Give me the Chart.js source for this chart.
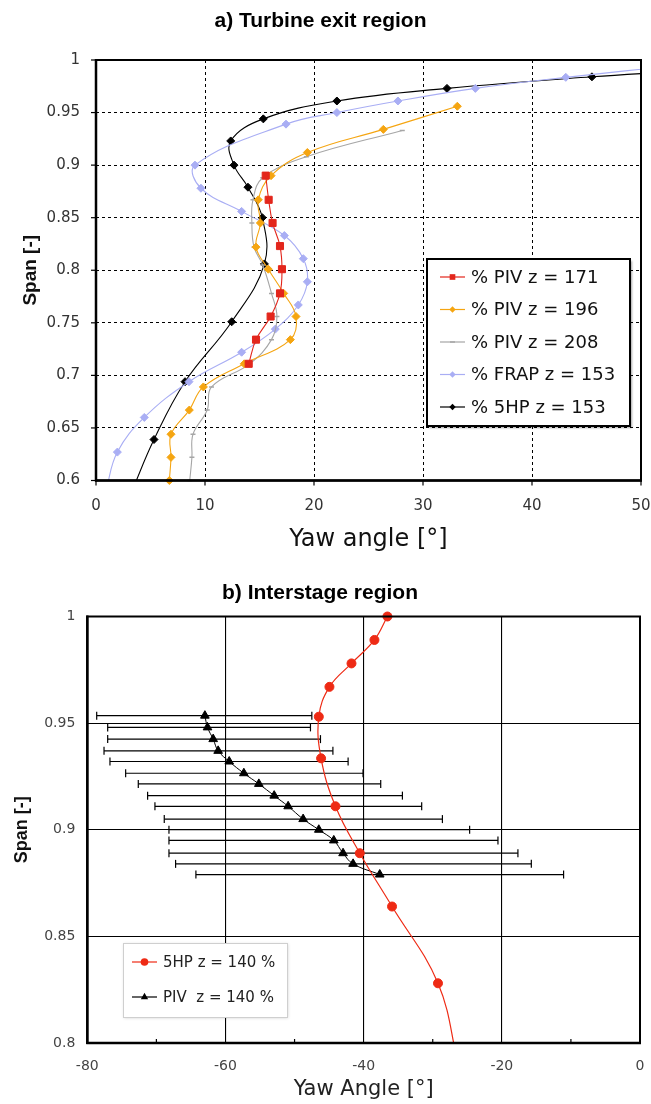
<!DOCTYPE html>
<html><head><meta charset="utf-8">
<script src="https://cdn.jsdelivr.net/npm/chart.js@4.4.1/dist/chart.umd.min.js"></script>
<style>
html,body{margin:0;padding:0;background:#fff;}
#wrapA{position:absolute;left:0;top:0;width:651px;height:570px;}
#wrapB{position:absolute;left:0;top:570px;width:651px;height:534px;}
canvas{display:block;}
</style></head><body>
<div id="wrapA"><canvas id="cA" width="651" height="570"></canvas></div>
<div id="wrapB"><canvas id="cB" width="651" height="534"></canvas></div>
<script>
// ---------- Panel a) Turbine exit region ----------
const titleA = 'a) Turbine exit region';
const yawTicksA = [0, 10, 20, 30, 40, 50];
const yawLabelsA = ['0', '10', '20', '30', '40', '50'];
const spanTicksA = [0.6, 0.65, 0.7, 0.75, 0.8, 0.85, 0.9, 0.95, 1];
const spanLabelsA = ['0.6', '0.65', '0.7', '0.75', '0.8', '0.85', '0.9', '0.95', '1'];
const legendA = ['% PIV z = 171', '% PIV z = 196', '% PIV z = 208', '% FRAP z = 153', '% 5HP z = 153'];

const piv171Yaw  = [15.57, 15.84, 16.2, 16.88, 17.06, 16.88, 16.02, 14.68, 14.01];
const piv171Span = [0.890, 0.867, 0.845, 0.823, 0.801, 0.778, 0.756, 0.734, 0.711];

const piv196Yaw  = [33.15, 26.36, 19.39, 16.06, 14.89, 15.08, 14.68, 15.81, 17.22, 18.35, 17.83, 13.6, 9.85, 8.56, 6.88, 6.88, 6.73];
const piv196Span = [0.956, 0.934, 0.912, 0.890, 0.867, 0.845, 0.822, 0.801, 0.778, 0.756, 0.734, 0.711, 0.689, 0.667, 0.644, 0.622, 0.600];

const piv208Yaw  = [28.1, 19.3, 15.3, 14.4, 14.3, 14.5, 15.3, 16.1, 16.6, 16.1, 14.1, 10.6, 10.2, 8.9, 8.8, 8.6];
const piv208Span = [0.933, 0.908, 0.888, 0.867, 0.845, 0.822, 0.805, 0.778, 0.756, 0.734, 0.711, 0.689, 0.667, 0.644, 0.622, 0.600];

const frapYaw  = [54, 43.1, 34.8, 27.7, 22.1, 17.43, 9.08, 9.63, 13.36, 17.28, 19.02, 19.39, 18.56, 16.45, 13.36, 8.53, 4.43, 1.96, 0.9];
const frapSpan = [0.9955, 0.9835, 0.973, 0.961, 0.950, 0.939, 0.900, 0.878, 0.856, 0.833, 0.811, 0.789, 0.767, 0.744, 0.722, 0.694, 0.660, 0.627, 0.59];

const hp153Yaw  = [54, 45.5, 32.2, 22.1, 15.35, 12.36, 12.66, 13.94, 15.26, 15.45, 12.45, 8.17, 5.32, 3.3];
const hp153Span = [0.9895, 0.984, 0.973, 0.961, 0.944, 0.923, 0.900, 0.879, 0.850, 0.806, 0.751, 0.694, 0.639, 0.59];

// ---------- Panel b) Interstage region ----------
const titleB = 'b) Interstage region';
const yawTicksB = [-80, -60, -40, -20, 0];
const yawLabelsB = ['-80', '-60', '-40', '-20', '0'];
const yawMinorB = [-70, -50, -30, -10];
const spanTicksB = [0.8, 0.85, 0.9, 0.95, 1];
const spanLabelsB = ['0.8', '0.85', '0.9', '0.95', '1'];
const legendB = ['5HP z = 140 %', 'PIV  z = 140 %'];

const hp140Yaw  = [-36.56, -38.44, -41.76, -44.95, -46.49, -46.16, -44.08, -40.56, -35.89, -29.24, -26.3];
const hp140Span = [1.0, 0.989, 0.978, 0.967, 0.953, 0.9335, 0.911, 0.889, 0.864, 0.828, 0.79];

const piv140Yaw  = [-62.98, -62.6, -61.78, -61.06, -59.46, -57.34, -55.17, -52.95, -50.93, -48.76, -46.49, -44.32, -42.98, -41.53, -37.67];
const piv140Span = [0.9535, 0.948, 0.9425, 0.937, 0.932, 0.9265, 0.9215, 0.916, 0.911, 0.905, 0.900, 0.895, 0.889, 0.884, 0.879];
const piv140ErrLow  = [-78.64, -77.05, -77.05, -77.58, -76.72, -74.45, -72.62, -71.27, -70.21, -68.86, -68.18, -68.18, -68.18, -67.22, -64.28];
const piv140ErrHigh = [-47.5, -47.7, -46.25, -44.45, -42.25, -40.09, -37.53, -34.39, -31.6, -28.6, -24.66, -20.56, -17.67, -15.73, -11.06];

// ---------- helpers ----------
const pts = (xs, ys) => xs.map((v, i) => ({x: v, y: ys[i]}));
const lab = (ticks, labels) => (v) => { const i = ticks.findIndex(t => Math.abs(t - v) < 1e-6); return i < 0 ? '' : labels[i]; };

function drawMark(ctx, style, x, y, r, color) {
  ctx.save();
  ctx.fillStyle = color; ctx.strokeStyle = color; ctx.lineWidth = 1;
  ctx.beginPath();
  if (style === 'rect') { const s = r * Math.SQRT1_2; ctx.rect(x - s, y - s, 2 * s, 2 * s); ctx.fill(); }
  else if (style === 'rectRot') { ctx.moveTo(x, y - r); ctx.lineTo(x + r, y); ctx.lineTo(x, y + r); ctx.lineTo(x - r, y); ctx.closePath(); ctx.fill(); }
  else if (style === 'circle') { ctx.arc(x, y, r, 0, Math.PI * 2); ctx.fill(); }
  else if (style === 'triangle') {
    for (let k = 0; k < 3; k++) { const a = -Math.PI / 2 + k * 2 * Math.PI / 3; const px = x + Math.cos(a) * r, py = y + Math.sin(a) * r; k ? ctx.lineTo(px, py) : ctx.moveTo(px, py); }
    ctx.closePath(); ctx.fill();
  }
  else if (style === 'line') { ctx.lineWidth = 1.5; ctx.moveTo(x - r, y); ctx.lineTo(x + r, y); ctx.stroke(); }
  ctx.restore();
}
function seg(ctx, x1, y1, x2, y2) { ctx.beginPath(); ctx.moveTo(x1, y1); ctx.lineTo(x2, y2); ctx.stroke(); }

// ---------- chart A ----------
const styleA = [
  {c: '#e3261c', s: 'rect', r: 5},
  {c: '#f5a511', s: 'rectRot', r: 4},
  {c: '#a6a6a6', s: 'line', r: 2.5},
  {c: '#a9aef4', s: 'rectRot', r: 4},
  {c: '#000000', s: 'rectRot', r: 4}
];
const dataA = [pts(piv171Yaw, piv171Span), pts(piv196Yaw, piv196Span), pts(piv208Yaw, piv208Span), pts(frapYaw, frapSpan), pts(hp153Yaw, hp153Span)];
const clipA = [{left:6,right:6,top:6,bottom:6}, {left:6,right:6,top:6,bottom:6}, {left:6,right:6,top:6,bottom:6}, {left:0,right:0,top:0,bottom:0}, {left:0,right:0,top:0,bottom:0}];

const pluginA = {
  id: 'pluginA',
  afterDatasetsDraw(chart) {
    const {ctx, chartArea: a, scales: {x, y}} = chart;
    ctx.save();
    ctx.strokeStyle = '#000';
    ctx.lineWidth = 1.2;
    yawTicksA.forEach(v => { const p = x.getPixelForValue(v); seg(ctx, p, a.bottom, p, a.bottom + 5); });
    spanTicksA.forEach(v => { const p = y.getPixelForValue(v); seg(ctx, a.left - 5, p, a.left, p); });
    ctx.lineWidth = 2;
    ctx.strokeRect(a.left, a.top, a.right - a.left, a.bottom - a.top);
    ctx.lineWidth = 2.5;
    seg(ctx, a.left, a.top - 1, a.left, a.bottom + 1);
    seg(ctx, a.left - 1, a.bottom, a.right + 1, a.bottom);
    // legend
    const L = 427, T = 259, W = 203, H = 167;
    ctx.save();
    ctx.shadowColor = 'rgba(0,0,0,0.35)'; ctx.shadowOffsetX = 2; ctx.shadowOffsetY = 2; ctx.shadowBlur = 2;
    ctx.fillStyle = '#fff'; ctx.fillRect(L, T, W, H);
    ctx.restore();
    ctx.lineWidth = 2; ctx.strokeStyle = '#000'; ctx.strokeRect(L, T, W, H);
    ctx.font = '18px "DejaVu Sans"'; ctx.textBaseline = 'middle'; ctx.textAlign = 'left';
    legendA.forEach((t, i) => {
      const yy = T + 18 + i * 32.5;
      const st = styleA[i];
      ctx.strokeStyle = st.c; ctx.lineWidth = 1.2;
      seg(ctx, L + 13, yy, L + 38, yy);
      drawMark(ctx, st.s, L + 25.5, yy, st.s === 'line' ? 2.5 : st.r * 0.8, st.c);
      ctx.fillStyle = '#111';
      ctx.fillText(t, L + 44, yy + 1);
    });
    ctx.restore();
  }
};

new Chart(document.getElementById('cA'), {
  type: 'scatter',
  data: {
    datasets: dataA.map((d, i) => ({
      label: legendA[i], data: d, showLine: true, tension: 0.4,
      borderColor: styleA[i].c, backgroundColor: styleA[i].c,
      borderWidth: 1.1, pointStyle: styleA[i].s, pointRadius: styleA[i].r, pointHoverRadius: styleA[i].r,
      pointBackgroundColor: styleA[i].c, pointBorderColor: styleA[i].c, pointBorderWidth: i === 2 ? 1.5 : 1,
      clip: clipA[i]
    }))
  },
  options: {
    responsive: false, animation: false, maintainAspectRatio: false,
    layout: {padding: {left: 0, right: 10, top: 0, bottom: 0}},
    plugins: {
      legend: {display: false}, tooltip: {enabled: false},
      title: {display: true, text: titleA, color: '#000', font: {family: '"Liberation Sans", Arial', size: 21, weight: 'bold'}, padding: {top: 9, bottom: 25.8}}
    },
    scales: {
      x: {
        type: 'linear', min: 0, max: 50,
        ticks: {stepSize: 10, autoSkip: false, maxRotation: 0, color: '#333', font: {family: '"DejaVu Sans"', size: 15, lineHeight: '51px'}, padding: 0, callback: lab(yawTicksA, yawLabelsA)},
        grid: {color: '#000', lineWidth: 1, drawTicks: false},
        border: {display: false, dash: [3, 3]},
        title: {display: true, text: 'Yaw angle [°]', color: '#111', font: {family: '"DejaVu Sans"', size: 24}, padding: {top: 0, bottom: 15.6}},
        afterFit: s => { s.height = 89.5; }
      },
      y: {
        type: 'linear', min: 0.6, max: 1,
        ticks: {stepSize: 0.05, autoSkip: false, color: '#333', font: {family: '"DejaVu Sans"', size: 15}, padding: 16, callback: lab(spanTicksA, spanLabelsA)},
        grid: {color: '#000', lineWidth: 1, drawTicks: false},
        border: {display: false, dash: [3, 3]},
        title: {display: true, text: 'Span [-]', color: '#111', font: {family: '"Liberation Sans", Arial', size: 19, weight: 'bold'}, padding: {top: 19, bottom: 0}},
        afterFit: s => { s.width = 96; }
      }
    }
  },
  plugins: [pluginA]
});

// ---------- chart B ----------
const styleB = [
  {c: '#ee2a14', s: 'circle', r: 4.5, lw: 1.2},
  {c: '#000000', s: 'triangle', r: 5, lw: 1}
];
const dataB = [pts(hp140Yaw, hp140Span), pts(piv140Yaw, piv140Span)];

const pluginB = {
  id: 'pluginB',
  beforeDatasetsDraw(chart) {
    const {ctx, scales: {x, y}} = chart;
    ctx.save();
    ctx.strokeStyle = '#000'; ctx.lineWidth = 1.2;
    piv140Span.forEach((s, i) => {
      const py = y.getPixelForValue(s);
      const x1 = x.getPixelForValue(piv140ErrLow[i]);
      const x2 = x.getPixelForValue(piv140ErrHigh[i]);
      seg(ctx, x1, py, x2, py);
      seg(ctx, x1, py - 4, x1, py + 4);
      seg(ctx, x2, py - 4, x2, py + 4);
    });
    ctx.restore();
  },
  afterDatasetsDraw(chart) {
    const {ctx, chartArea: a, scales: {x}} = chart;
    ctx.save();
    ctx.strokeStyle = '#000';
    ctx.lineWidth = 1.2;
    yawMinorB.forEach(v => { const p = x.getPixelForValue(v); seg(ctx, p, a.bottom - 4, p, a.bottom); });
    ctx.lineWidth = 2;
    ctx.strokeRect(a.left, a.top, a.right - a.left, a.bottom - a.top);
    ctx.lineWidth = 2.5;
    seg(ctx, a.left, a.top - 1, a.left, a.bottom + 1);
    seg(ctx, a.left - 1, a.bottom, a.right + 1, a.bottom);
    // legend
    const L = 123, T = 373, W = 164, H = 74;
    ctx.save();
    ctx.shadowColor = 'rgba(0,0,0,0.18)'; ctx.shadowOffsetX = 1; ctx.shadowOffsetY = 1; ctx.shadowBlur = 3;
    ctx.fillStyle = '#fff'; ctx.fillRect(L, T, W, H);
    ctx.restore();
    ctx.lineWidth = 1; ctx.strokeStyle = '#cfcfcf'; ctx.strokeRect(L + 0.5, T + 0.5, W, H);
    ctx.font = '15px "DejaVu Sans"'; ctx.textBaseline = 'middle'; ctx.textAlign = 'left';
    legendB.forEach((t, i) => {
      const yy = T + 19 + i * 35;
      const st = styleB[i];
      ctx.strokeStyle = st.c; ctx.lineWidth = 1.2;
      seg(ctx, L + 9, yy, L + 34, yy);
      drawMark(ctx, st.s, L + 21.5, yy, st.r * 0.85, st.c);
      ctx.fillStyle = '#222';
      ctx.fillText(t, L + 40, yy + 1);
    });
    ctx.restore();
  }
};

new Chart(document.getElementById('cB'), {
  type: 'scatter',
  data: {
    datasets: dataB.map((d, i) => ({
      label: legendB[i], data: d, showLine: true, tension: 0.4,
      borderColor: styleB[i].c, backgroundColor: styleB[i].c, borderWidth: styleB[i].lw,
      pointStyle: styleB[i].s, pointRadius: styleB[i].r, pointHoverRadius: styleB[i].r,
      pointBackgroundColor: styleB[i].c, pointBorderColor: styleB[i].c, pointBorderWidth: 1,
      clip: {left: 0, right: 0, top: 8, bottom: 0}
    }))
  },
  options: {
    responsive: false, animation: false, maintainAspectRatio: false,
    layout: {padding: {left: 0, right: 11, top: 0, bottom: 0}},
    plugins: {
      legend: {display: false}, tooltip: {enabled: false},
      title: {display: true, text: titleB, color: '#000', font: {family: '"Liberation Sans", Arial', size: 21, weight: 'bold'}, padding: {top: 10.4, bottom: 10.9}}
    },
    scales: {
      x: {
        type: 'linear', min: -80, max: 0,
        ticks: {stepSize: 20, autoSkip: false, maxRotation: 0, color: '#444', font: {family: '"DejaVu Sans"', size: 14, lineHeight: '47px'}, padding: 0, callback: lab(yawTicksB, yawLabelsB)},
        grid: {color: '#000', lineWidth: 1.1, drawTicks: false},
        border: {display: false},
        title: {display: true, text: 'Yaw Angle [°]', color: '#222', font: {family: '"DejaVu Sans"', size: 21}, padding: {top: 0, bottom: 1.5}},
        afterFit: s => { s.height = 61; }
      },
      y: {
        type: 'linear', min: 0.8, max: 1,
        ticks: {stepSize: 0.05, autoSkip: false, color: '#444', font: {family: '"DejaVu Sans"', size: 14}, padding: 12, callback: lab(spanTicksB, spanLabelsB)},
        grid: {color: '#000', lineWidth: 1.1, drawTicks: false},
        border: {display: false},
        title: {display: true, text: 'Span [-]', color: '#111', font: {family: '"Liberation Sans", Arial', size: 18, weight: 'bold'}, padding: {top: 11, bottom: 0}},
        afterFit: s => { s.width = 87.3; }
      }
    }
  },
  plugins: [pluginB]
});
</script>
</body></html>
